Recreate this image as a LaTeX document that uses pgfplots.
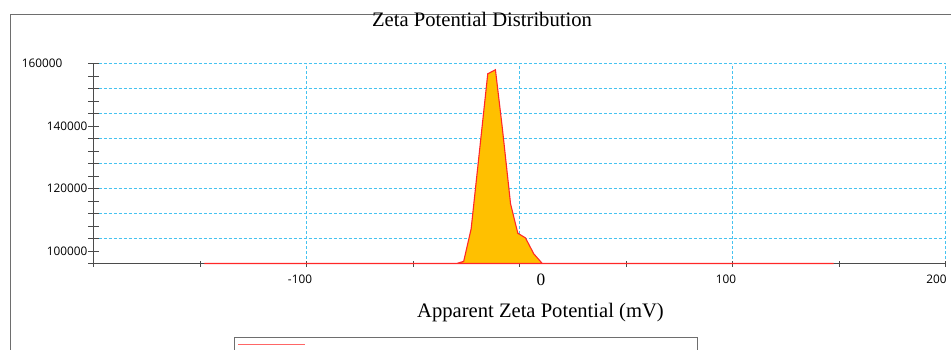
\documentclass[border=0pt]{standalone}
\usepackage{fontspec}
\setmainfont{Liberation Serif}
\newfontfamily\tickfont{Open Sans}
\usepackage{pgfplots}
\pgfplotsset{compat=1.18}
\definecolor{gridc}{RGB}{70,195,240}
\definecolor{fillc}{RGB}{255,192,0}
\definecolor{linec}{RGB}{255,40,40}
\definecolor{axc}{RGB}{75,75,75}
\definecolor{framec}{RGB}{110,110,110}
\begin{document}
\begin{tikzpicture}[x=1pt,y=1pt]
\useasboundingbox (0,0) rectangle (951,349);
\clip (0,0) rectangle (951,349);
\draw[line width=1.3pt, framec] (10.5,-2) -- (10.5,334.5) -- (953,334.5);
\draw[line width=0.9pt, framec] (234.5,-5) rectangle (697,11.3);
\draw[line width=1.5pt, red!60] (238,4.7) -- (305,4.7);
\node[anchor=base, inner sep=0pt, font=\fontsize{20.6}{21}\selectfont] at (482,322.3) {Zeta Potential Distribution};
\node[anchor=base, inner sep=0pt, font=\fontsize{20.6}{21}\selectfont] at (540.5,32) {Apparent Zeta Potential (mV)};
\node[anchor=base, inner sep=0pt, font=\fontsize{17.3}{18}\selectfont] at (541,64) {0};
\begin{axis}[
  at={(93.5pt,85.5pt)}, anchor=south west,
  scale only axis, width=852pt, height=200pt,
  xmin=-200, xmax=200, ymin=96000, ymax=160000,
  axis lines*=left,
  axis line style={axc, line width=1pt},
  clip=false,
  scaled ticks=false,
  xtick={-100,0,100,200},
  xticklabels={-100,,100,{200\kern5pt}},
  minor xtick={-200,-150,-50,50,150},
  xmajorgrids=true,
  ytick={104000,112000,120000,128000,136000,144000,152000,160000},
  yticklabels={},
  ymajorgrids=true,
  minor ytick={96000,100000,104000,108000,112000,116000,120000,124000,128000,132000,136000,140000,144000,148000,152000,156000,160000},
  extra y ticks={100000,120000,140000,160000},
  extra y tick labels={100000,120000,140000,{160000\kern25pt}},
  extra y tick style={grid=none},
  tick align=center,
  major tick length=10pt, minor tick length=10pt,
  tick style={axc, line width=1pt},
  xtick style={/pgfplots/major tick length=6pt, /pgfplots/minor tick length=6pt},
  major grid style={gridc, line width=1pt, dash pattern=on 3pt off 2pt},
  xticklabel style={font=\tickfont\fontsize{11.8}{12}\selectfont, inner sep=0pt, anchor=north, yshift=-6.5pt, xshift=-6.5pt},
  yticklabel style={font=\tickfont\fontsize{11.8}{12}\selectfont, inner sep=0pt, anchor=east, xshift=-1pt},
]
\addplot[fill=fillc, draw=linec, line width=1.1pt] coordinates {
(-148,96000) (-29.5,96000) (-26.2,96700) (-22.7,107100) (-14.9,156700)
(-11.3,158000) (-8.1,139600) (-4.2,115100) (-0.8,105700) (2.8,104200)
(6.7,99100) (10.7,96000) (147.5,96000)
} -- cycle;
\end{axis}
\end{tikzpicture}
\end{document}
